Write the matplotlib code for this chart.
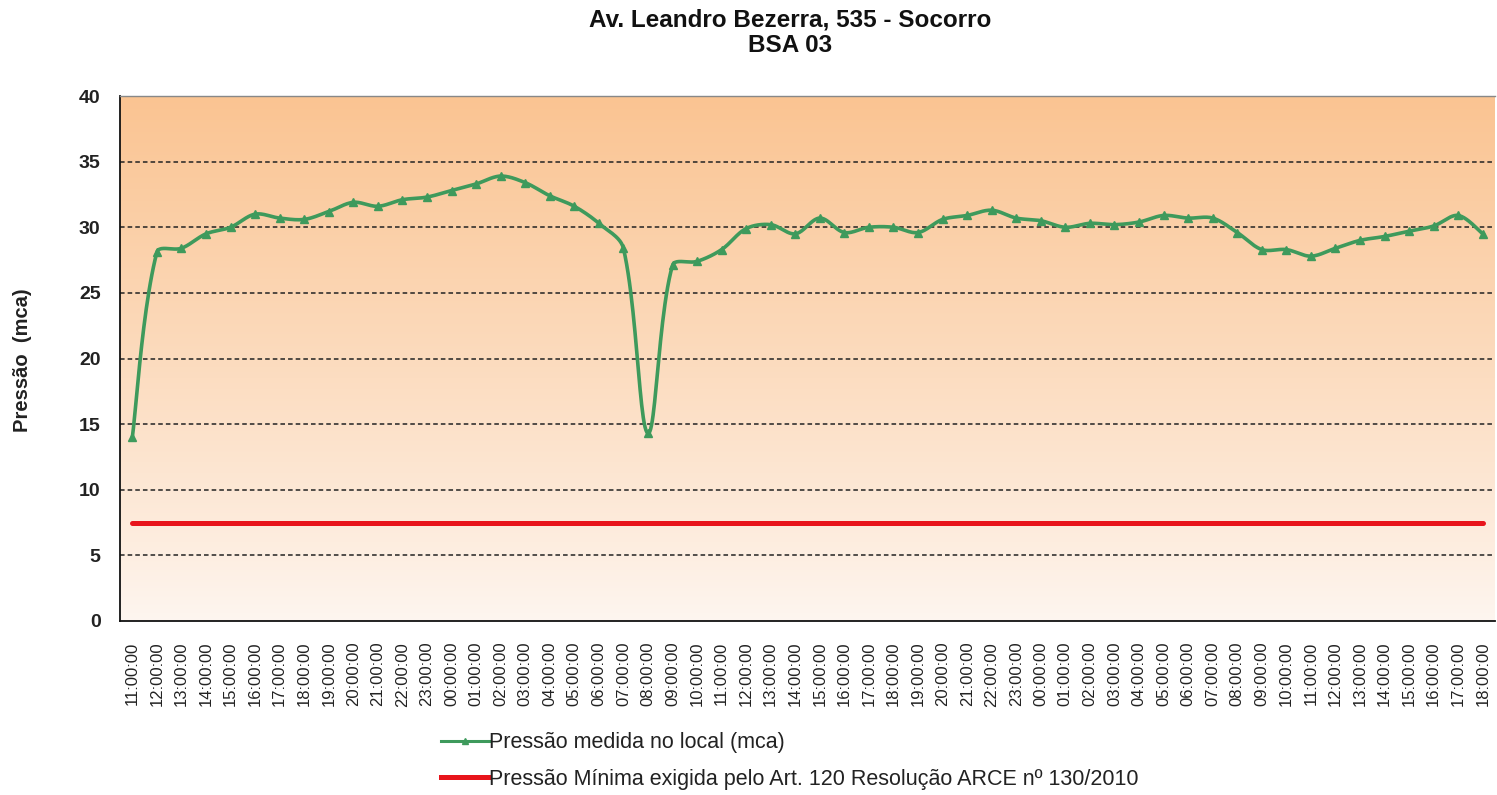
import numpy as np
import matplotlib
matplotlib.use("Agg")
import matplotlib.pyplot as plt
from matplotlib.lines import Line2D

plt.rcParams['font.family'] = ['Liberation Sans', 'DejaVu Sans']

title = "Av. Leandro Bezerra, 535 - Socorro\nBSA 03"
ylabel = "Pressão  (mca)"
series_label = "Pressão medida no local (mca)"
min_label = "Pressão Mínima exigida pelo Art. 120 Resolução ARCE nº 130/2010"

hours = ["11", "12", "13", "14", "15", "16", "17", "18", "19", "20", "21", "22", "23",
         "00", "01", "02", "03", "04", "05", "06", "07", "08", "09", "10", "11", "12",
         "13", "14", "15", "16", "17", "18", "19", "20", "21", "22", "23",
         "00", "01", "02", "03", "04", "05", "06", "07", "08", "09", "10", "11", "12",
         "13", "14", "15", "16", "17", "18"]
tick_labels = [h + ":00:00" for h in hours]

pressure = [14.0, 28.1, 28.4, 29.5, 30.0, 31.0, 30.7, 30.6, 31.2, 31.9, 31.6, 32.1, 32.3,
            32.8, 33.3, 33.9, 33.4, 32.4, 31.6, 30.3, 28.4, 14.3, 27.1, 27.4, 28.3, 29.9,
            30.2, 29.5, 30.7, 29.6, 30.0, 30.0, 29.6, 30.6, 30.9, 31.3, 30.7,
            30.5, 30.0, 30.3, 30.2, 30.4, 30.9, 30.7, 30.7, 29.6, 28.3, 28.3, 27.8, 28.4,
            29.0, 29.3, 29.7, 30.1, 30.9, 29.5]
min_pressure = 7.5

yticks = [0, 5, 10, 15, 20, 25, 30, 35, 40]

green = "#3E9A5C"
red = "#E8141B"


def smooth_curve(xs, ys, sx, sy, tension=1/3, n=24):
    """Excel-like smoothing: Bezier with distance-weighted control points in screen space."""
    P = np.column_stack([np.asarray(xs, float) * sx, np.asarray(ys, float) * sy])
    m = len(P)
    out = [P[0]]
    t = np.linspace(0, 1, n + 1)[1:, None]
    for i in range(m - 1):
        p0 = P[max(i - 1, 0)]
        p1 = P[i]
        p2 = P[i + 1]
        p3 = P[min(i + 2, m - 1)]
        d01 = np.linalg.norm(p1 - p0)
        d12 = np.linalg.norm(p2 - p1)
        d23 = np.linalg.norm(p3 - p2)
        c1 = p1 + (tension * d12 / (d01 + d12) * (p2 - p0) if d01 > 0 else (p2 - p1) * tension / 2)
        c2 = p2 - (tension * d12 / (d12 + d23) * (p3 - p1) if d23 > 0 else (p2 - p1) * tension / 2)
        b = (1 - t) ** 3 * p1 + 3 * (1 - t) ** 2 * t * c1 + 3 * (1 - t) * t ** 2 * c2 + t ** 3 * p2
        out.extend(b)
    out = np.array(out)
    return out[:, 0] / sx, out[:, 1] / sy


fig = plt.figure(figsize=(14.97, 7.95), dpi=100)
ax = fig.add_axes([0.0802, 0.2189, 0.9185, 0.6603])

n = len(pressure)
x = np.arange(n)
ax.set_xlim(-0.5, n - 0.5)
ax.set_ylim(0, 40)

# gradient background
grad = np.linspace(0, 1, 256).reshape(-1, 1)
top = np.array([250, 196, 146]) / 255.0
bot = np.array([254, 246, 240]) / 255.0
img = bot + (top - bot) * grad[:, :, None] ** 0.9
ax.imshow(img, extent=[-0.5, n - 0.5, 0, 40], origin="lower", aspect="auto", zorder=0)

for yv in yticks[1:-1]:
    ax.axhline(yv, color="#222222", lw=1.1, ls=(0, (3, 2)), zorder=1)

ax.plot(x, [min_pressure] * n, color=red, lw=3.6, solid_capstyle="round", zorder=3)

# screen scale (pixels per data unit)
px_x = 1375.0 / n
px_y = 525.0 / 40.0
cx, cy = smooth_curve(x, pressure, px_x, px_y)
ax.plot(cx, cy, color=green, lw=2.6, zorder=4)
ax.plot(x, pressure, ls="none", marker="^", ms=5.5, color=green, zorder=5)

ax.set_yticks(yticks)
ax.set_yticklabels([str(v) for v in yticks], fontsize=14, fontweight="bold", color="#222222")
ax.set_xticks(x)
ax.set_xticklabels(tick_labels, rotation=90, fontsize=12, color="#222222")
ax.tick_params(axis="both", length=0)
ax.tick_params(axis="y", pad=14)
ax.tick_params(axis="x", pad=15)

for s in ["left", "bottom"]:
    ax.spines[s].set_color("#111111")
    ax.spines[s].set_linewidth(1.3)
ax.spines["top"].set_color("#888888")
ax.spines["top"].set_linewidth(1.0)
ax.spines["right"].set_visible(False)

fig.text(0.0147, 0.547, ylabel, rotation=90, ha="center", va="center",
         fontsize=14.5, fontweight="bold", color="#222222")
fig.text(0.528, 0.989, title, ha="center", va="top", fontsize=17.5,
         fontweight="bold", linespacing=1.12, color="#111111")

handles = [Line2D([], [], color=green, lw=2.2, marker="^", ms=4, markevery=[1]),
           Line2D([], [], color=red, lw=3.6)]
leg = fig.legend(handles, [series_label, min_label], loc="upper left",
                 bbox_to_anchor=(0.289, 0.090), frameon=False, fontsize=15.5,
                 handlelength=2.2, handletextpad=0.0, labelspacing=0.72,
                 borderaxespad=0)
for t in leg.get_texts():
    t.set_color("#222222")

fig.savefig("out.png", dpi=100)
